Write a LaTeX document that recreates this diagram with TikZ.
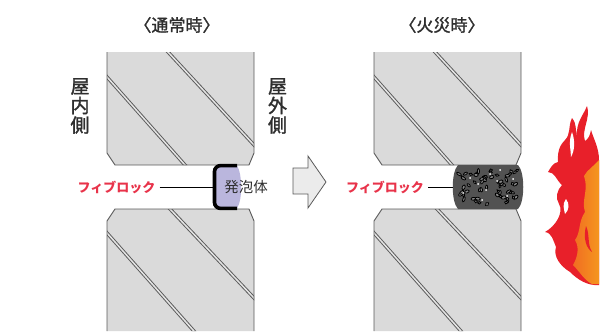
\documentclass[tikz,border=0pt]{standalone}
\usepackage{fontspec}
\newfontfamily\jp{Noto Sans CJK JP}
\newfontfamily\jpm[FakeBold=1.6]{Noto Sans CJK JP}
\definecolor{blockgray}{HTML}{DADADA}
\definecolor{grooveline}{HTML}{E4E4E4}
\definecolor{edgegray}{HTML}{5A5A5A}
\definecolor{foamlilac}{HTML}{BAB6DD}
\definecolor{charcoal}{HTML}{525252}
\definecolor{speckgray}{HTML}{858585}
\definecolor{labelred}{HTML}{E8334A}
\definecolor{textgray}{HTML}{2E2E2E}
\definecolor{flamered}{HTML}{E8202A}
\definecolor{flameorange}{HTML}{F5961E}
\definecolor{arrowfill}{HTML}{EBEBEB}

% one pair of wall blocks (upper and lower) with their diagonal grooves
\newcommand\masonrypair{%
  \begin{scope}
    \clip (107,52) -- (107,153) -- (115,165) -- (249,165) -- (254,153) -- (254,52) -- cycle;
    \fill[blockgray] (90,40) rectangle (270,170);
    \draw[groove] (97,65.7) -- (195,176.3);
    \draw[groovein] (97,65.7) -- (195,176.3);
    \draw[groove] (158,41.2) -- (264,155.8);
    \draw[groovein] (158,41.2) -- (264,155.8);
  \end{scope}
  \draw[wedge] (107,52) -- (107,153) -- (115,165) -- (249,165) -- (254,153) -- (254,52);
  \begin{scope}
    \clip (107,331) -- (107,221) -- (115,209) -- (249,209) -- (254,221) -- (254,331) -- cycle;
    \fill[blockgray] (90,200) rectangle (270,340);
    \draw[groove] (97,221.7) -- (203,341.3);
    \draw[groovein] (97,221.7) -- (203,341.3);
    \draw[groove] (160,198.4) -- (264,308.6);
    \draw[groovein] (160,198.4) -- (264,308.6);
  \end{scope}
  \draw[wedge] (107,331) -- (107,221) -- (115,209) -- (249,209) -- (254,221) -- (254,331);
}

\begin{document}
\begin{tikzpicture}[x=1bp,y=-1bp,
  groove/.style={draw=edgegray, line width=3.4bp},
  groovein/.style={draw=grooveline, line width=1.5bp},
  wedge/.style={draw=edgegray, line width=0.9bp},
  ttl/.style={font=\jpm\fontsize{17bp}{17bp}\selectfont, text=textgray, inner sep=0},
  vert/.style={font=\jpm\fontsize{19bp}{19.5bp}\selectfont, text=textgray, align=center, inner sep=0},
  lbl/.style={font=\jp\bfseries\fontsize{13bp}{13bp}\selectfont, text=labelred, inner sep=0},
  leader/.style={draw=black, line width=0.8bp}]
\useasboundingbox (0,0) rectangle (605,334);

% walls: normal state (left) and fire state (right)
\masonrypair
\begin{scope}[xshift=267bp]
  \masonrypair
\end{scope}

% titles and side labels
\node[ttl] (ttlL) at (177,25) {〈通常時〉};
\node[ttl] (ttlR) at (442,25) {〈火災時〉};
\node[vert] (inside) at (80,106) {屋\\内\\側};
\node[vert] (outside) at (277.5,106) {屋\\外\\側};

% sealant with expanding foam layer (normal state)
\fill[foamlilac] (215,166) -- (237,166) .. controls (242,172) and (243,200) .. (237,208) -- (215,208) -- cycle;
\draw[black, line width=3.6bp, rounded corners=6bp] (237,165.6) -- (214.5,165.6) -- (214.5,208.4) -- (237,208.4);
\node[font=\jp\fontsize{14.5bp}{14.5bp}\selectfont, text=textgray, inner sep=0] (foamtxt) at (246,187) {発泡体};
\coordinate (foamL) at (213,187);
\node[lbl] (fbL) at (116.5,187) {フィブロック};
\draw[leader] ([xshift=4bp]fbL.east) -- (foamL);

% transition arrow
\draw[draw=edgegray, fill=arrowfill, line width=0.8bp, line join=miter]
  (293,168) -- (308,168) -- (308,156) -- (326,182) -- (308,208) -- (308,194) -- (293,194) -- cycle;

% charred, expanded foam (fire state)
\fill[charcoal] (458,165) -- (518,165) .. controls (525,172) and (525,202) .. (518,209)
  -- (458,209) .. controls (451,202) and (451,172) .. (458,165) -- cycle;
\pgfmathsetseed{7}
\foreach \k in {1,...,60}{
  \pgfmathsetmacro\sx{459+58*rnd}
  \pgfmathsetmacro\sy{169.5+35*rnd}
  \pgfmathsetmacro\sr{180*rnd}
  \pgfmathsetmacro\sa{1.4+1.3*rnd}
  \pgfmathsetmacro\sb{1.0+0.6*rnd}
  \draw[black, line width=0.8bp, fill=speckgray, rotate around={\sr:(\sx,\sy)}]
    (\sx,\sy) ellipse [x radius=\sa, y radius=\sb];
}
\foreach \wx/\wy in {478/184, 486/190, 470/178, 497/181, 507/196, 490/174, 463/193, 513/179, 482/200, 500/170}{
  \fill[white] (\wx,\wy) circle [radius=1.0];
}
\coordinate (foamR) at (453,187);
\node[lbl] (fbR) at (385,187) {フィブロック};
\draw[leader] ([xshift=4bp]fbR.east) -- (foamR);

% flames
\fill[flamered] (599,285) -- (599,160)
  .. controls (599,148) and (594,140) .. (591,130)
  .. controls (590,136) and (588,139) .. (585,141)
  .. controls (581,130) and (591,118) .. (587,106)
  .. controls (583,116) and (576,122) .. (577,136)
  .. controls (575,129) and (577,124) .. (572,118)
  .. controls (568,126) and (571,134) .. (565,140)
  .. controls (561,144) and (557,150) .. (558,162)
  .. controls (553,163) and (551,167) .. (548,172)
  .. controls (555,172) and (556,180) .. (562,185)
  .. controls (557,190) and (555,198) .. (559,204)
  .. controls (564,212) and (556,226) .. (545,232)
  .. controls (552,233) and (553,240) .. (556,247)
  .. controls (553,256) and (560,266) .. (570,272)
  .. controls (578,280) and (588,286) .. (599,285) -- cycle;
\shade[left color=flamered!35!flameorange, right color=flameorange] (599,284) -- (599,160)
  .. controls (594,166) and (587,170) .. (584,176)
  .. controls (589,190) and (581,200) .. (585,212)
  .. controls (578,222) and (581,232) .. (575,240)
  .. controls (580,248) and (577,258) .. (573,265)
  .. controls (580,272) and (584,280) .. (592,284) -- cycle;
\fill[flamered] (586,226) .. controls (590,234) and (587,244) .. (592,252)
  .. controls (586,248) and (583,238) .. (586,226) -- cycle;
\fill[white] (572,132) .. controls (575,140) and (575,150) .. (571,157)
  .. controls (571,150) and (568,142) .. (572,132) -- cycle;
\fill[white] (566,199) .. controls (570,204) and (569,210) .. (565,214)
  .. controls (564,209) and (562,204) .. (566,199) -- cycle;
\end{tikzpicture}
\end{document}
